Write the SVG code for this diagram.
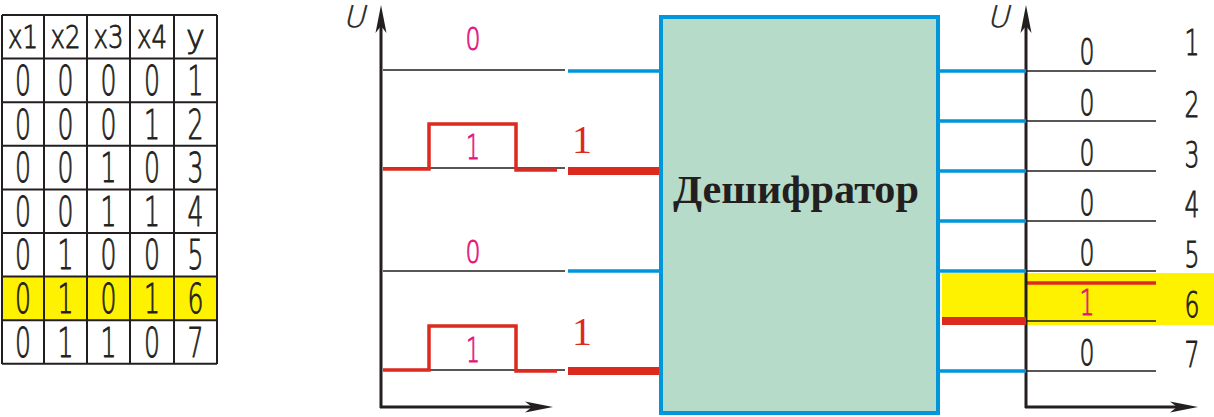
<svg xmlns="http://www.w3.org/2000/svg" width="1214" height="417" viewBox="0 0 1214 417">
<defs>
<style>
.t{font-family:'DejaVu Sans ExtraLight','DejaVu Sans Light','DejaVu Sans Condensed',sans-serif;font-weight:200;fill:#231f20;stroke:#231f20;stroke-width:0.9;text-anchor:middle}
.mg{font-family:'DejaVu Sans ExtraLight','DejaVu Sans Light','DejaVu Sans Condensed',sans-serif;font-weight:200;fill:#e4157f;stroke:#e4157f;stroke-width:0.9;text-anchor:middle}
.rs{font-family:'Liberation Serif',serif;font-weight:400;fill:#dc2a1f;text-anchor:middle}
.u{font-family:'DejaVu Sans ExtraLight','DejaVu Sans Light',sans-serif;font-weight:200;font-style:italic;fill:#231f20;stroke:#231f20;stroke-width:0.5;font-size:30px;text-anchor:middle}
.grid{stroke:#231f20;stroke-width:2;fill:none}
.thin{stroke:#231f20;stroke-width:1.5;fill:none}
.axis{stroke:#231f20;stroke-width:3;fill:none;marker-end:url(#ah)}
.blue{stroke:#0096db;stroke-width:3.5;fill:none}
.redt{stroke:#dc2a1f;stroke-width:8;fill:none}
.red{stroke:#dc2a1f;stroke-width:3.5;fill:none}
</style>
<marker id="ah" markerUnits="userSpaceOnUse" viewBox="-28 -6 28 12" markerWidth="28" markerHeight="12" refX="-10" refY="0" orient="auto">
<path d="M0,0 L-28,-5.5 L-21,0 L-28,5.5 Z" fill="#231f20"/>
</marker>
</defs>
<rect width="1214" height="417" fill="#ffffff"/>

<g id="table">
<rect x="2" y="276.6" width="215" height="43.6" fill="#fff200"/>
<path class="grid" d="M2,15V364M44,15V364M87,15V364M130,15V364M174,15V364M217,15V364M2,15H217M2,58.6H217M2,102.2H217M2,145.8H217M2,189.4H217M2,233H217M2,276.6H217M2,320.2H217M2,363.8H217"/>
<g class="t" font-size="32">
<text x="23" y="48" textLength="30" lengthAdjust="spacingAndGlyphs">x1</text><text x="65.5" y="48" textLength="30" lengthAdjust="spacingAndGlyphs">x2</text><text x="108.5" y="48" textLength="30" lengthAdjust="spacingAndGlyphs">x3</text><text x="152" y="48" textLength="30" lengthAdjust="spacingAndGlyphs">x4</text><text x="195.5" y="48">y</text>
</g>
<g class="t" font-size="41">
<text x="23" y="95" textLength="16" lengthAdjust="spacingAndGlyphs">0</text><text x="65.5" y="95" textLength="16" lengthAdjust="spacingAndGlyphs">0</text><text x="108.5" y="95" textLength="16" lengthAdjust="spacingAndGlyphs">0</text><text x="152" y="95" textLength="16" lengthAdjust="spacingAndGlyphs">0</text><text x="195.5" y="95" textLength="16" lengthAdjust="spacingAndGlyphs">1</text>
<text x="23" y="138.6" textLength="16" lengthAdjust="spacingAndGlyphs">0</text><text x="65.5" y="138.6" textLength="16" lengthAdjust="spacingAndGlyphs">0</text><text x="108.5" y="138.6" textLength="16" lengthAdjust="spacingAndGlyphs">0</text><text x="152" y="138.6" textLength="16" lengthAdjust="spacingAndGlyphs">1</text><text x="195.5" y="138.6" textLength="16" lengthAdjust="spacingAndGlyphs">2</text>
<text x="23" y="182.2" textLength="16" lengthAdjust="spacingAndGlyphs">0</text><text x="65.5" y="182.2" textLength="16" lengthAdjust="spacingAndGlyphs">0</text><text x="108.5" y="182.2" textLength="16" lengthAdjust="spacingAndGlyphs">1</text><text x="152" y="182.2" textLength="16" lengthAdjust="spacingAndGlyphs">0</text><text x="195.5" y="182.2" textLength="16" lengthAdjust="spacingAndGlyphs">3</text>
<text x="23" y="225.8" textLength="16" lengthAdjust="spacingAndGlyphs">0</text><text x="65.5" y="225.8" textLength="16" lengthAdjust="spacingAndGlyphs">0</text><text x="108.5" y="225.8" textLength="16" lengthAdjust="spacingAndGlyphs">1</text><text x="152" y="225.8" textLength="16" lengthAdjust="spacingAndGlyphs">1</text><text x="195.5" y="225.8" textLength="16" lengthAdjust="spacingAndGlyphs">4</text>
<text x="23" y="269.4" textLength="16" lengthAdjust="spacingAndGlyphs">0</text><text x="65.5" y="269.4" textLength="16" lengthAdjust="spacingAndGlyphs">1</text><text x="108.5" y="269.4" textLength="16" lengthAdjust="spacingAndGlyphs">0</text><text x="152" y="269.4" textLength="16" lengthAdjust="spacingAndGlyphs">0</text><text x="195.5" y="269.4" textLength="16" lengthAdjust="spacingAndGlyphs">5</text>
<text x="23" y="313" textLength="16" lengthAdjust="spacingAndGlyphs">0</text><text x="65.5" y="313" textLength="16" lengthAdjust="spacingAndGlyphs">1</text><text x="108.5" y="313" textLength="16" lengthAdjust="spacingAndGlyphs">0</text><text x="152" y="313" textLength="16" lengthAdjust="spacingAndGlyphs">1</text><text x="195.5" y="313" textLength="16" lengthAdjust="spacingAndGlyphs">6</text>
<text x="23" y="356.6" textLength="16" lengthAdjust="spacingAndGlyphs">0</text><text x="65.5" y="356.6" textLength="16" lengthAdjust="spacingAndGlyphs">1</text><text x="108.5" y="356.6" textLength="16" lengthAdjust="spacingAndGlyphs">1</text><text x="152" y="356.6" textLength="16" lengthAdjust="spacingAndGlyphs">0</text><text x="195.5" y="356.6" textLength="16" lengthAdjust="spacingAndGlyphs">7</text>
</g>
</g>

<g id="input-graph">
<path class="thin" d="M383,70H565M383,168H565M383,271H565M383,370H565"/>
<polyline class="red" points="383,169 429,169 429,124 516,124 516,170 557,170"/>
<polyline class="red" points="383,370 429,370 429,326 516,326 516,371 557,371"/>
<path class="axis" d="M381,408V15"/>
<path class="axis" d="M380,407H543"/>
<text class="u" x="354" y="27">U</text>
<text class="mg" x="473" y="50" font-size="32" textLength="15" lengthAdjust="spacingAndGlyphs">0</text>
<text class="mg" x="473" y="159" font-size="34" textLength="14" lengthAdjust="spacingAndGlyphs">1</text>
<text class="mg" x="473" y="263" font-size="32" textLength="15" lengthAdjust="spacingAndGlyphs">0</text>
<text class="mg" x="473" y="362" font-size="34" textLength="14" lengthAdjust="spacingAndGlyphs">1</text>
<text class="rs" x="582" y="153" font-size="40">1</text>
<text class="rs" x="582" y="345" font-size="40">1</text>
</g>

<g id="output-graph">
<rect x="942" y="273" width="272" height="52" fill="#fff200"/>
<path class="thin" d="M1026,71H1156M1026,121H1156M1026,171H1156M1026,221H1156M1026,271H1156M1026,321H1156M1026,371H1156"/>
<path class="red" d="M1026,283H1156"/>
<path class="axis" d="M1026,408V15"/>
<path class="axis" d="M1025,407H1188"/>
<text class="u" x="998" y="27">U</text>
<g class="t" font-size="35">
<text x="1087" y="64" textLength="15" lengthAdjust="spacingAndGlyphs">0</text><text x="1087" y="115" textLength="15" lengthAdjust="spacingAndGlyphs">0</text><text x="1087" y="165" textLength="15" lengthAdjust="spacingAndGlyphs">0</text><text x="1087" y="215" textLength="15" lengthAdjust="spacingAndGlyphs">0</text><text x="1087" y="265" textLength="15" lengthAdjust="spacingAndGlyphs">0</text><text x="1087" y="365" textLength="15" lengthAdjust="spacingAndGlyphs">0</text>
<text x="1192" y="55" textLength="15" lengthAdjust="spacingAndGlyphs">1</text><text x="1192" y="117" textLength="15" lengthAdjust="spacingAndGlyphs">2</text><text x="1192" y="167" textLength="15" lengthAdjust="spacingAndGlyphs">3</text><text x="1192" y="217" textLength="15" lengthAdjust="spacingAndGlyphs">4</text><text x="1192" y="267" textLength="15" lengthAdjust="spacingAndGlyphs">5</text><text x="1192" y="317" textLength="15" lengthAdjust="spacingAndGlyphs">6</text><text x="1192" y="367" textLength="15" lengthAdjust="spacingAndGlyphs">7</text>
</g>
<text class="mg" x="1087" y="315" font-size="35" textLength="15" lengthAdjust="spacingAndGlyphs">1</text>
</g>

<g id="connectors">
<path class="blue" d="M568,71H660M568,271H660"/>
<path class="redt" d="M568,171H660M568,371H660"/>
<path class="blue" d="M940,71H1026M940,121H1026M940,171H1026M940,221H1026M940,271H1026M940,371H1026"/>
<path class="redt" d="M942,321H1026"/>
</g>

<g id="decoder">
<rect x="661" y="17" width="277" height="396" fill="#b6dcc9" stroke="#0096db" stroke-width="4"/>
<text x="796" y="203" font-family="'Liberation Serif',serif" font-weight="bold" font-size="40" fill="#231f20" text-anchor="middle" textLength="246" lengthAdjust="spacingAndGlyphs">Дешифратор</text>
</g>
</svg>
